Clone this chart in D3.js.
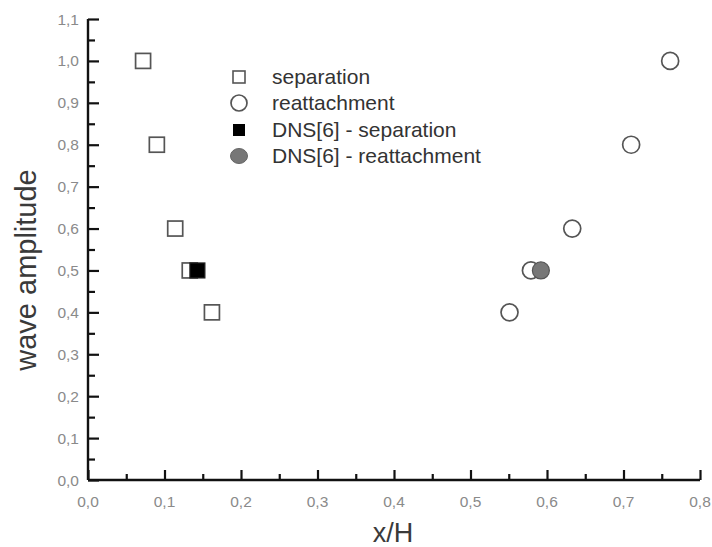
<!DOCTYPE html>
<html><head><meta charset="utf-8">
<script src="https://cdn.jsdelivr.net/npm/d3@7"></script>
<style>body{margin:0;background:#fff}svg{display:block}</style>
</head><body>
<svg id="c" width="712" height="547"></svg>
<script>
const sepX = [0.072, 0.090, 0.114, 0.133, 0.162];
const sepY = [1.0, 0.8, 0.6, 0.5, 0.4];
const reaX = [0.551, 0.579, 0.633, 0.710, 0.761];
const reaY = [0.4, 0.5, 0.6, 0.8, 1.0];
const dnsSepX = [0.143];
const dnsSepY = [0.5];
const dnsReaX = [0.592];
const dnsReaY = [0.5];
const xTicks = [0,0.1,0.2,0.3,0.4,0.5,0.6,0.7,0.8];
const yTicks = [0,0.1,0.2,0.3,0.4,0.5,0.6,0.7,0.8,0.9,1.0,1.1];
const legendLabels = ["separation","reattachment","DNS[6] - separation","DNS[6] - reattachment"];

const svg = d3.select("#c");
const font = "Liberation Sans, Arial, sans-serif";
const x = d3.scaleLinear().domain([0,0.8]).range([88,700]);
const y = d3.scaleLinear().domain([0,1.1]).range([480,19]);
const fmt = d => d3.format(".1f")(d).replace(".", ",");

// X axis
const gx = svg.append("g").attr("transform","translate(0,480)");
gx.call(d3.axisBottom(x).tickValues(d3.range(0,0.801,0.05)).tickSize(-10).tickFormat(""));
gx.selectAll(".tick line").attr("y2", (d,i)=> i%2===0 ? -10 : -6);
gx.select(".domain").attr("stroke","#111").attr("stroke-width",2.4).attr("d","M88,0H700");
gx.selectAll(".tick line").attr("stroke","#111").attr("stroke-width",2.2);
svg.append("g").selectAll("text").data(xTicks).join("text")
  .attr("x", d=>x(d)).attr("y", 507).attr("text-anchor","middle")
  .attr("font-family",font).attr("font-size",15.5).attr("fill","#8a8a8a").text(fmt);

// Y axis
const gy = svg.append("g").attr("transform","translate(88,0)");
gy.call(d3.axisLeft(y).tickValues(d3.range(0,1.101,0.05)).tickSize(-11).tickFormat(""));
gy.selectAll(".tick line").attr("x2", (d,i)=> i%2===0 ? 11 : 7);
gy.select(".domain").attr("stroke","#111").attr("stroke-width",2.4).attr("d","M0,19V480");
gy.selectAll(".tick line").attr("stroke","#111").attr("stroke-width",2.2);
svg.append("g").selectAll("text").data(yTicks).join("text")
  .attr("x", 79).attr("y", d=>y(d)+5.5).attr("text-anchor","end")
  .attr("font-family",font).attr("font-size",15.5).attr("fill","#8a8a8a").text(fmt);

// Axis titles
svg.append("text").attr("x",393).attr("y",542).attr("text-anchor","middle")
  .attr("font-family",font).attr("font-size",27).attr("fill","#3a3a3a").text("x/H");
svg.append("text").attr("transform","translate(36,270) rotate(-90)").attr("text-anchor","middle")
  .attr("font-family",font).attr("font-size",29).attr("fill","#3a3a3a").text("wave amplitude");

const sq = 15, r = 8.5;
const stroke = "#555";
// separation squares
svg.append("g").selectAll("rect").data(d3.zip(sepX,sepY)).join("rect")
  .attr("x", d=>x(d[0])-sq/2).attr("y", d=>y(d[1])-sq/2).attr("width",sq).attr("height",sq)
  .attr("fill","#fff").attr("stroke",stroke).attr("stroke-width",1.7);
svg.append("g").selectAll("rect").data(d3.zip(dnsSepX,dnsSepY)).join("rect")
  .attr("x", d=>x(d[0])-sq/2).attr("y", d=>y(d[1])-sq/2).attr("width",sq).attr("height",sq)
  .attr("fill","#000").attr("stroke","#222").attr("stroke-width",1.2);
// reattachment circles
svg.append("g").selectAll("circle").data(d3.zip(reaX,reaY)).join("circle")
  .attr("cx", d=>x(d[0])).attr("cy", d=>y(d[1])).attr("r",r)
  .attr("fill","#fff").attr("stroke",stroke).attr("stroke-width",1.7);
svg.append("g").selectAll("circle").data(d3.zip(dnsReaX,dnsReaY)).join("circle")
  .attr("cx", d=>x(d[0])).attr("cy", d=>y(d[1])).attr("r",r)
  .attr("fill","#777").attr("stroke","#555").attr("stroke-width",1.2);

// Legend
const lg = svg.append("g");
const ly = [77,103,130,156];
legendLabels.forEach((t,i)=>{
  const cy = ly[i], cx = 239;
  if(i===0) lg.append("rect").attr("x",cx-6).attr("y",cy-6).attr("width",12).attr("height",12).attr("fill","#fff").attr("stroke",stroke).attr("stroke-width",1.6);
  if(i===1) lg.append("circle").attr("cx",cx).attr("cy",cy).attr("r",8).attr("fill","#fff").attr("stroke",stroke).attr("stroke-width",1.7);
  if(i===2) lg.append("rect").attr("x",cx-6).attr("y",cy-6).attr("width",12).attr("height",12).attr("fill","#000");
  if(i===3) lg.append("ellipse").attr("cx",cx).attr("cy",cy).attr("rx",8.5).attr("ry",7.5).attr("fill","#777").attr("stroke","#666");
  lg.append("text").attr("x",272).attr("y",cy+7).attr("font-family",font).attr("font-size",21)
    .attr("fill","#333").text(t);
});
</script>
</body></html>
